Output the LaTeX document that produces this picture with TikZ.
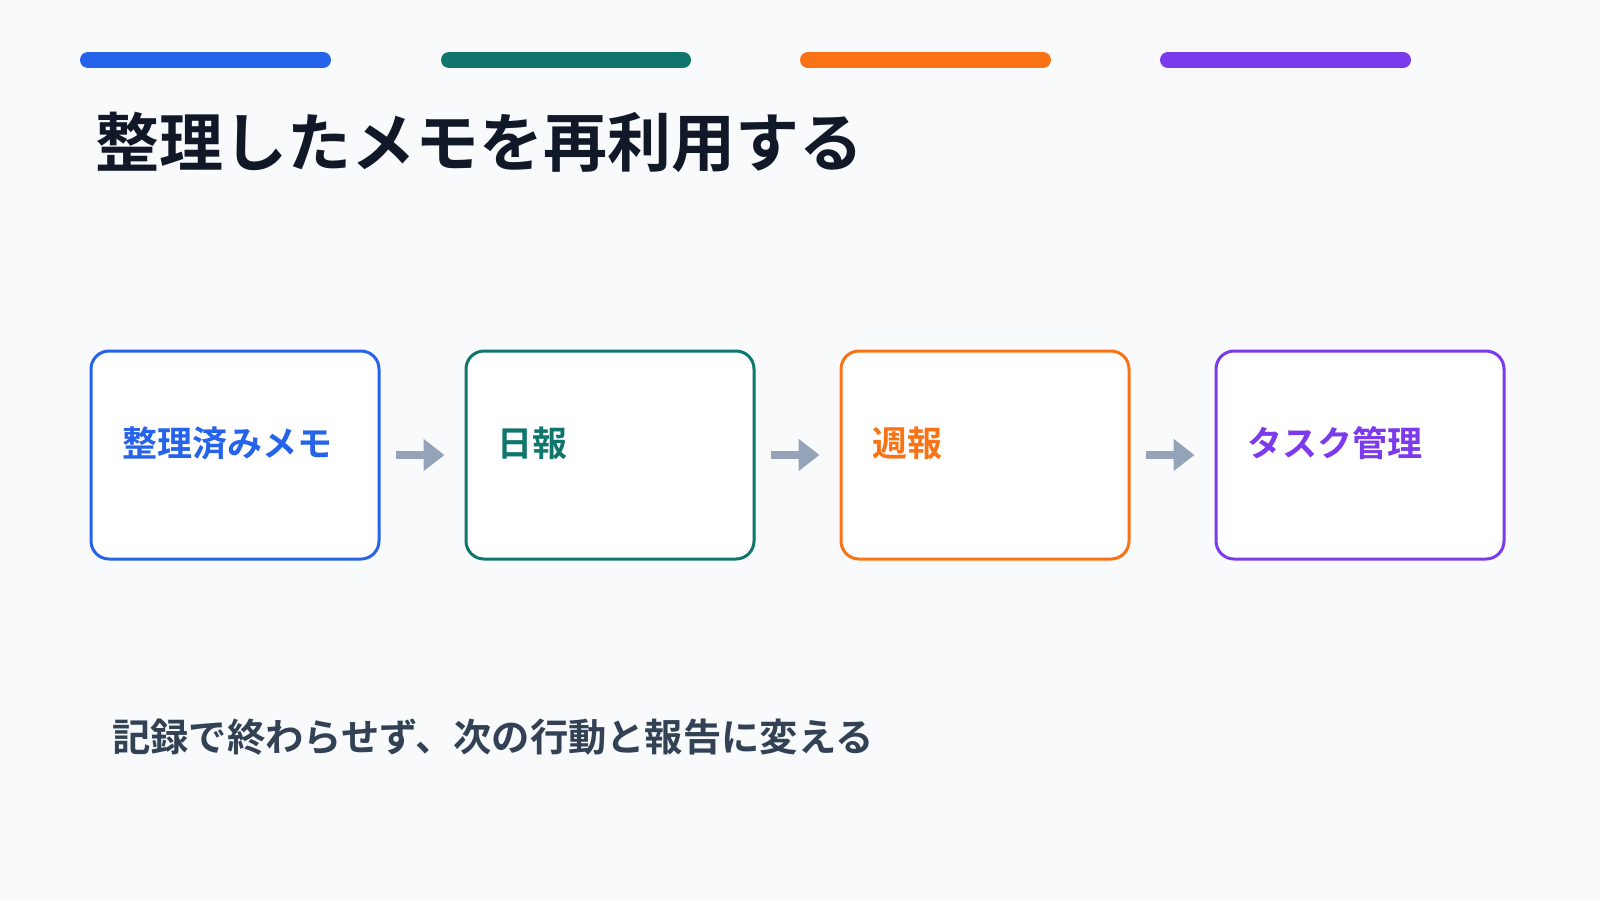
\documentclass[tikz,border=0pt]{standalone}
\usepackage{fontspec}
\setmainfont{Noto Sans CJK JP}[BoldFont={Noto Sans CJK JP Bold}]
\usepackage{xcolor}
\definecolor{PageBg}      {RGB}{248, 250, 252}
\definecolor{StepBlue}    {RGB}{37,  99,  235}
\definecolor{StepGreen}   {RGB}{15,  118, 110}
\definecolor{StepOrange}  {RGB}{249, 115, 22}
\definecolor{StepPurple}  {RGB}{124, 58,  237}
\definecolor{TitleInk}    {RGB}{17,  24,  39}
\definecolor{NoteInk}     {RGB}{51,  65,  85}
\definecolor{ArrowGray}   {RGB}{148, 163, 184}
\usetikzlibrary{
  arrows.meta,
  positioning
}

\begin{document}
\begin{tikzpicture}[
  x=1pt, y=-1pt,
  font=\bfseries,
  topbar/.style={
    line width=16pt,
    line cap=round},
  stagebox/.style={
    draw, fill=white,
    rounded corners=18pt,
    line width=3pt,
    minimum width=288pt,
    minimum height=208pt,
    inner sep=0pt},
  stagelabel/.style={
    anchor=west, inner sep=0pt,
    font=\fontsize{35}{40}\selectfont\bfseries},
  flow/.style={
    -{Triangle[length=21pt, width=31pt]},
    line width=8pt, color=ArrowGray}
]

% page
\fill[PageBg] (0,0) rectangle (1600,900);

% colour bars
\draw[topbar, StepBlue]   (88,60)   -- (323,60);
\draw[topbar, StepGreen]  (449,60)  -- (683,60);
\draw[topbar, StepOrange] (808,60)  -- (1043,60);
\draw[topbar, StepPurple] (1168,60) -- (1403,60);

\node[anchor=west, inner sep=0pt, text=TitleInk,
  font=\fontsize{64}{72}\selectfont\bfseries]
  (title) at (95,142)
  {整理したメモを再利用する};

% stages
\node[stagebox, draw=StepBlue]   (memo)   at (235,455)  {};
\node[stagebox, draw=StepGreen]  (daily)  at (610,455)  {};
\node[stagebox, draw=StepOrange] (weekly) at (985,455)  {};
\node[stagebox, draw=StepPurple] (tasks)  at (1360,455) {};

\node[stagelabel, text=StepBlue]
  (memolbl) at ([xshift=33pt, yshift=12pt]memo.west) {整理済みメモ};
\node[stagelabel, text=StepGreen]
  (dailylbl) at ([xshift=33pt, yshift=12pt]daily.west) {日報};
\node[stagelabel, text=StepOrange]
  (weeklylbl) at ([xshift=33pt, yshift=12pt]weekly.west) {週報};
\node[stagelabel, text=StepPurple]
  (taskslbl) at ([xshift=33pt, yshift=12pt]tasks.west) {タスク管理};

\draw[flow] ([xshift=15pt]memo.east)   -- ([xshift=-20pt]daily.west);
\draw[flow] ([xshift=15pt]daily.east)  -- ([xshift=-20pt]weekly.west);
\draw[flow] ([xshift=15pt]weekly.east) -- ([xshift=-20pt]tasks.west);

\node[anchor=west, inner sep=0pt, text=NoteInk,
  font=\fontsize{38.3}{44}\selectfont\bfseries]
  (note) at (112,737)
  {記録で終わらせず、次の行動と報告に変える};

\end{tikzpicture}
\end{document}
